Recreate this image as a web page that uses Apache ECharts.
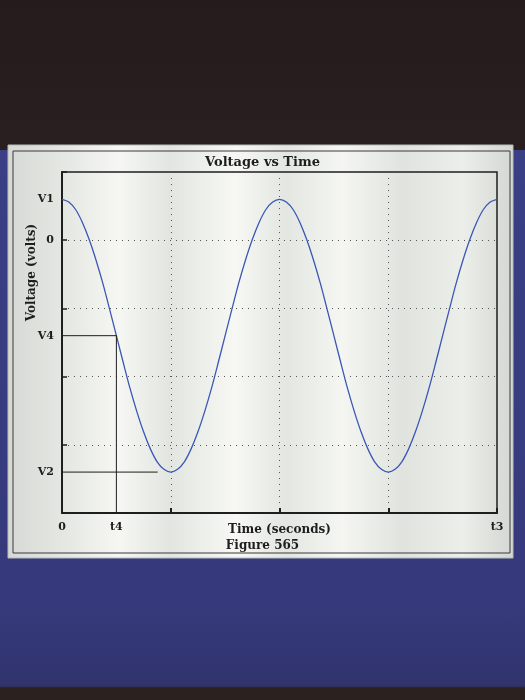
<!DOCTYPE html>
<html>
<head>
<meta charset="utf-8">
<script src="https://cdn.jsdelivr.net/npm/echarts@6/dist/echarts.min.js"></script>
<style>
  html, body { margin: 0; padding: 0; }
  body {
    width: 525px; height: 700px; overflow: hidden;
    background: linear-gradient(to bottom, #261b1c 0px, #2a1f20 150px, #3a3f86 150px, #363a7c 600px, #30336c 686px, #2b2220 688px, #2b2220 700px);
  }
  #main { width: 525px; height: 700px; }
</style>
</head>
<body>
<div id="main"></div>
<script>
// curve, one point every 1/16 of a grid division
var times = [0, 0.0625, 0.125, 0.1875, 0.25, 0.3125, 0.375, 0.4375, 0.5, 0.5625, 0.625, 0.6875, 0.75, 0.8125, 0.875, 0.9375, 1,
  1.0625, 1.125, 1.1875, 1.25, 1.3125, 1.375, 1.4375, 1.5, 1.5625, 1.625, 1.6875, 1.75, 1.8125, 1.875, 1.9375, 2,
  2.0625, 2.125, 2.1875, 2.25, 2.3125, 2.375, 2.4375, 2.5, 2.5625, 2.625, 2.6875, 2.75, 2.8125, 2.875, 2.9375, 3,
  3.0625, 3.125, 3.1875, 3.25, 3.3125, 3.375, 3.4375, 3.5, 3.5625, 3.625, 3.6875, 3.75, 3.8125, 3.875, 3.9375, 4];
var volts = [0.6, 0.56, 0.45, 0.26, 0.01, -0.29, -0.63, -1.01, -1.4, -1.79, -2.17, -2.51, -2.81, -3.06, -3.25, -3.36, -3.4,
  -3.36, -3.25, -3.06, -2.81, -2.51, -2.17, -1.79, -1.4, -1.01, -0.63, -0.29, 0.01, 0.26, 0.45, 0.56, 0.6,
  0.56, 0.45, 0.26, 0.01, -0.29, -0.63, -1.01, -1.4, -1.79, -2.17, -2.51, -2.81, -3.06, -3.25, -3.36, -3.4,
  -3.36, -3.25, -3.06, -2.81, -2.51, -2.17, -1.79, -1.4, -1.01, -0.63, -0.29, 0.01, 0.26, 0.45, 0.56, 0.6];

// marked levels on the axes
var yMarks = [0.6, 0, -1.4, -3.4];
var yNames = ['V1', '0', 'V4', 'V2'];
var xMarks = [0, 0.5, 4];
var xNames = ['0', 't4', 't3'];

// helper lines: V4 -> t4 and V2
var v4Line = [[0, -1.4], [0.5, -1.4], [0.5, -4]];
var v2Line = [[0, -3.4], [0.88, -3.4]];

var font = 'DejaVu Serif';
var chart = echarts.init(document.getElementById('main'));

var curve = [];
for (var i = 0; i < times.length; i++) curve.push([times[i], volts[i]]);

function pick(list, names, v) {
  for (var i = 0; i < list.length; i++) {
    if (Math.abs(list[i] - v) < 1e-6) return names[i];
  }
  return '';
}

var option = {
  animation: false,
  backgroundColor: 'transparent',
  graphic: [{
    type: 'rect',
    z: -10,
    shape: { x: 8, y: 145, width: 505, height: 413 },
    style: {
      fill: {
        type: 'linear', x: 0, y: 0, x2: 1, y2: 0,
        colorStops: [
          { offset: 0, color: '#d6d9d5' },
          { offset: 0.12, color: '#e6e8e3' },
          { offset: 0.22, color: '#f6f7f3' },
          { offset: 0.32, color: '#e2e5e0' },
          { offset: 0.45, color: '#f7f8f4' },
          { offset: 0.55, color: '#e3e6e1' },
          { offset: 0.66, color: '#f5f6f2' },
          { offset: 0.78, color: '#e0e3de' },
          { offset: 0.9, color: '#eceee9' },
          { offset: 1, color: '#d3d6d2' }
        ]
      },
      stroke: '#b9bcb8',
      lineWidth: 1
    }
  }, {
    type: 'rect',
    z: -9,
    shape: { x: 13, y: 151, width: 497, height: 402 },
    style: { fill: 'none', stroke: '#3a3a3a', lineWidth: 1 }
  }],
  title: [{
    text: 'Voltage vs Time',
    left: 'center',
    top: 151,
    textStyle: { fontFamily: font, fontWeight: 'bold', fontSize: 13, color: '#1e1e1e' }
  }, {
    text: 'Figure 565',
    left: 'center',
    top: 535,
    textStyle: { fontFamily: font, fontWeight: 'bold', fontSize: 12, color: '#1e1e1e' }
  }],
  grid: {
    left: 62, right: 28, top: 172, bottom: 187,
    show: true, borderColor: '#1e1e1e', borderWidth: 1.5
  },
  xAxis: {
    type: 'value',
    min: 0, max: 4, interval: 1,
    name: 'Time (seconds)',
    nameLocation: 'middle',
    nameGap: 11,
    nameMoveOverlap: false,
    nameTextStyle: { fontFamily: font, fontWeight: 'bold', fontSize: 12, color: '#1e1e1e' },
    axisLine: { onZero: false, lineStyle: { color: '#1e1e1e', width: 2 } },
    axisTick: { inside: true, length: 5, lineStyle: { color: '#1e1e1e', width: 2 } },
    axisLabel: {
      customValues: xMarks,
      margin: 9,
      fontFamily: font, fontWeight: 'bold', fontSize: 11, color: '#1e1e1e',
      formatter: function (v) { return pick(xMarks, xNames, v); }
    },
    splitLine: { show: true, lineStyle: { type: [1, 5], color: '#555', width: 1 } }
  },
  yAxis: {
    type: 'value',
    min: -4, max: 1, interval: 1,
    name: 'Voltage (volts)',
    nameLocation: 'middle',
    nameGap: 24,
    nameMoveOverlap: false,
    nameRotate: 90,
    nameTextStyle: {
      fontFamily: font, fontWeight: 'bold', fontSize: 12, color: '#1e1e1e',
      padding: [0, 0, 0, 140]
    },
    axisLine: { show: true, onZero: false, lineStyle: { color: '#1e1e1e', width: 2 } },
    axisTick: { inside: true, length: 5, lineStyle: { color: '#1e1e1e', width: 1.5 } },
    axisLabel: {
      customValues: yMarks,
      margin: 8,
      fontFamily: font, fontWeight: 'bold', fontSize: 11, color: '#1e1e1e',
      formatter: function (v) { return pick(yMarks, yNames, v); }
    },
    splitLine: { show: true, lineStyle: { type: [1, 5], color: '#555', width: 1 } }
  },
  series: [{
    name: 'voltage',
    type: 'line',
    data: curve,
    smooth: 0.3,
    showSymbol: false,
    lineStyle: { color: '#3a57b8', width: 1.3 },
    z: 3
  }, {
    name: 'v4',
    type: 'line',
    data: v4Line,
    showSymbol: false,
    lineStyle: { color: '#1e1e1e', width: 1 }
  }, {
    name: 'v2',
    type: 'line',
    data: v2Line,
    showSymbol: false,
    lineStyle: { color: '#1e1e1e', width: 1 }
  }]
};

chart.setOption(option);
</script>
</body>
</html>
